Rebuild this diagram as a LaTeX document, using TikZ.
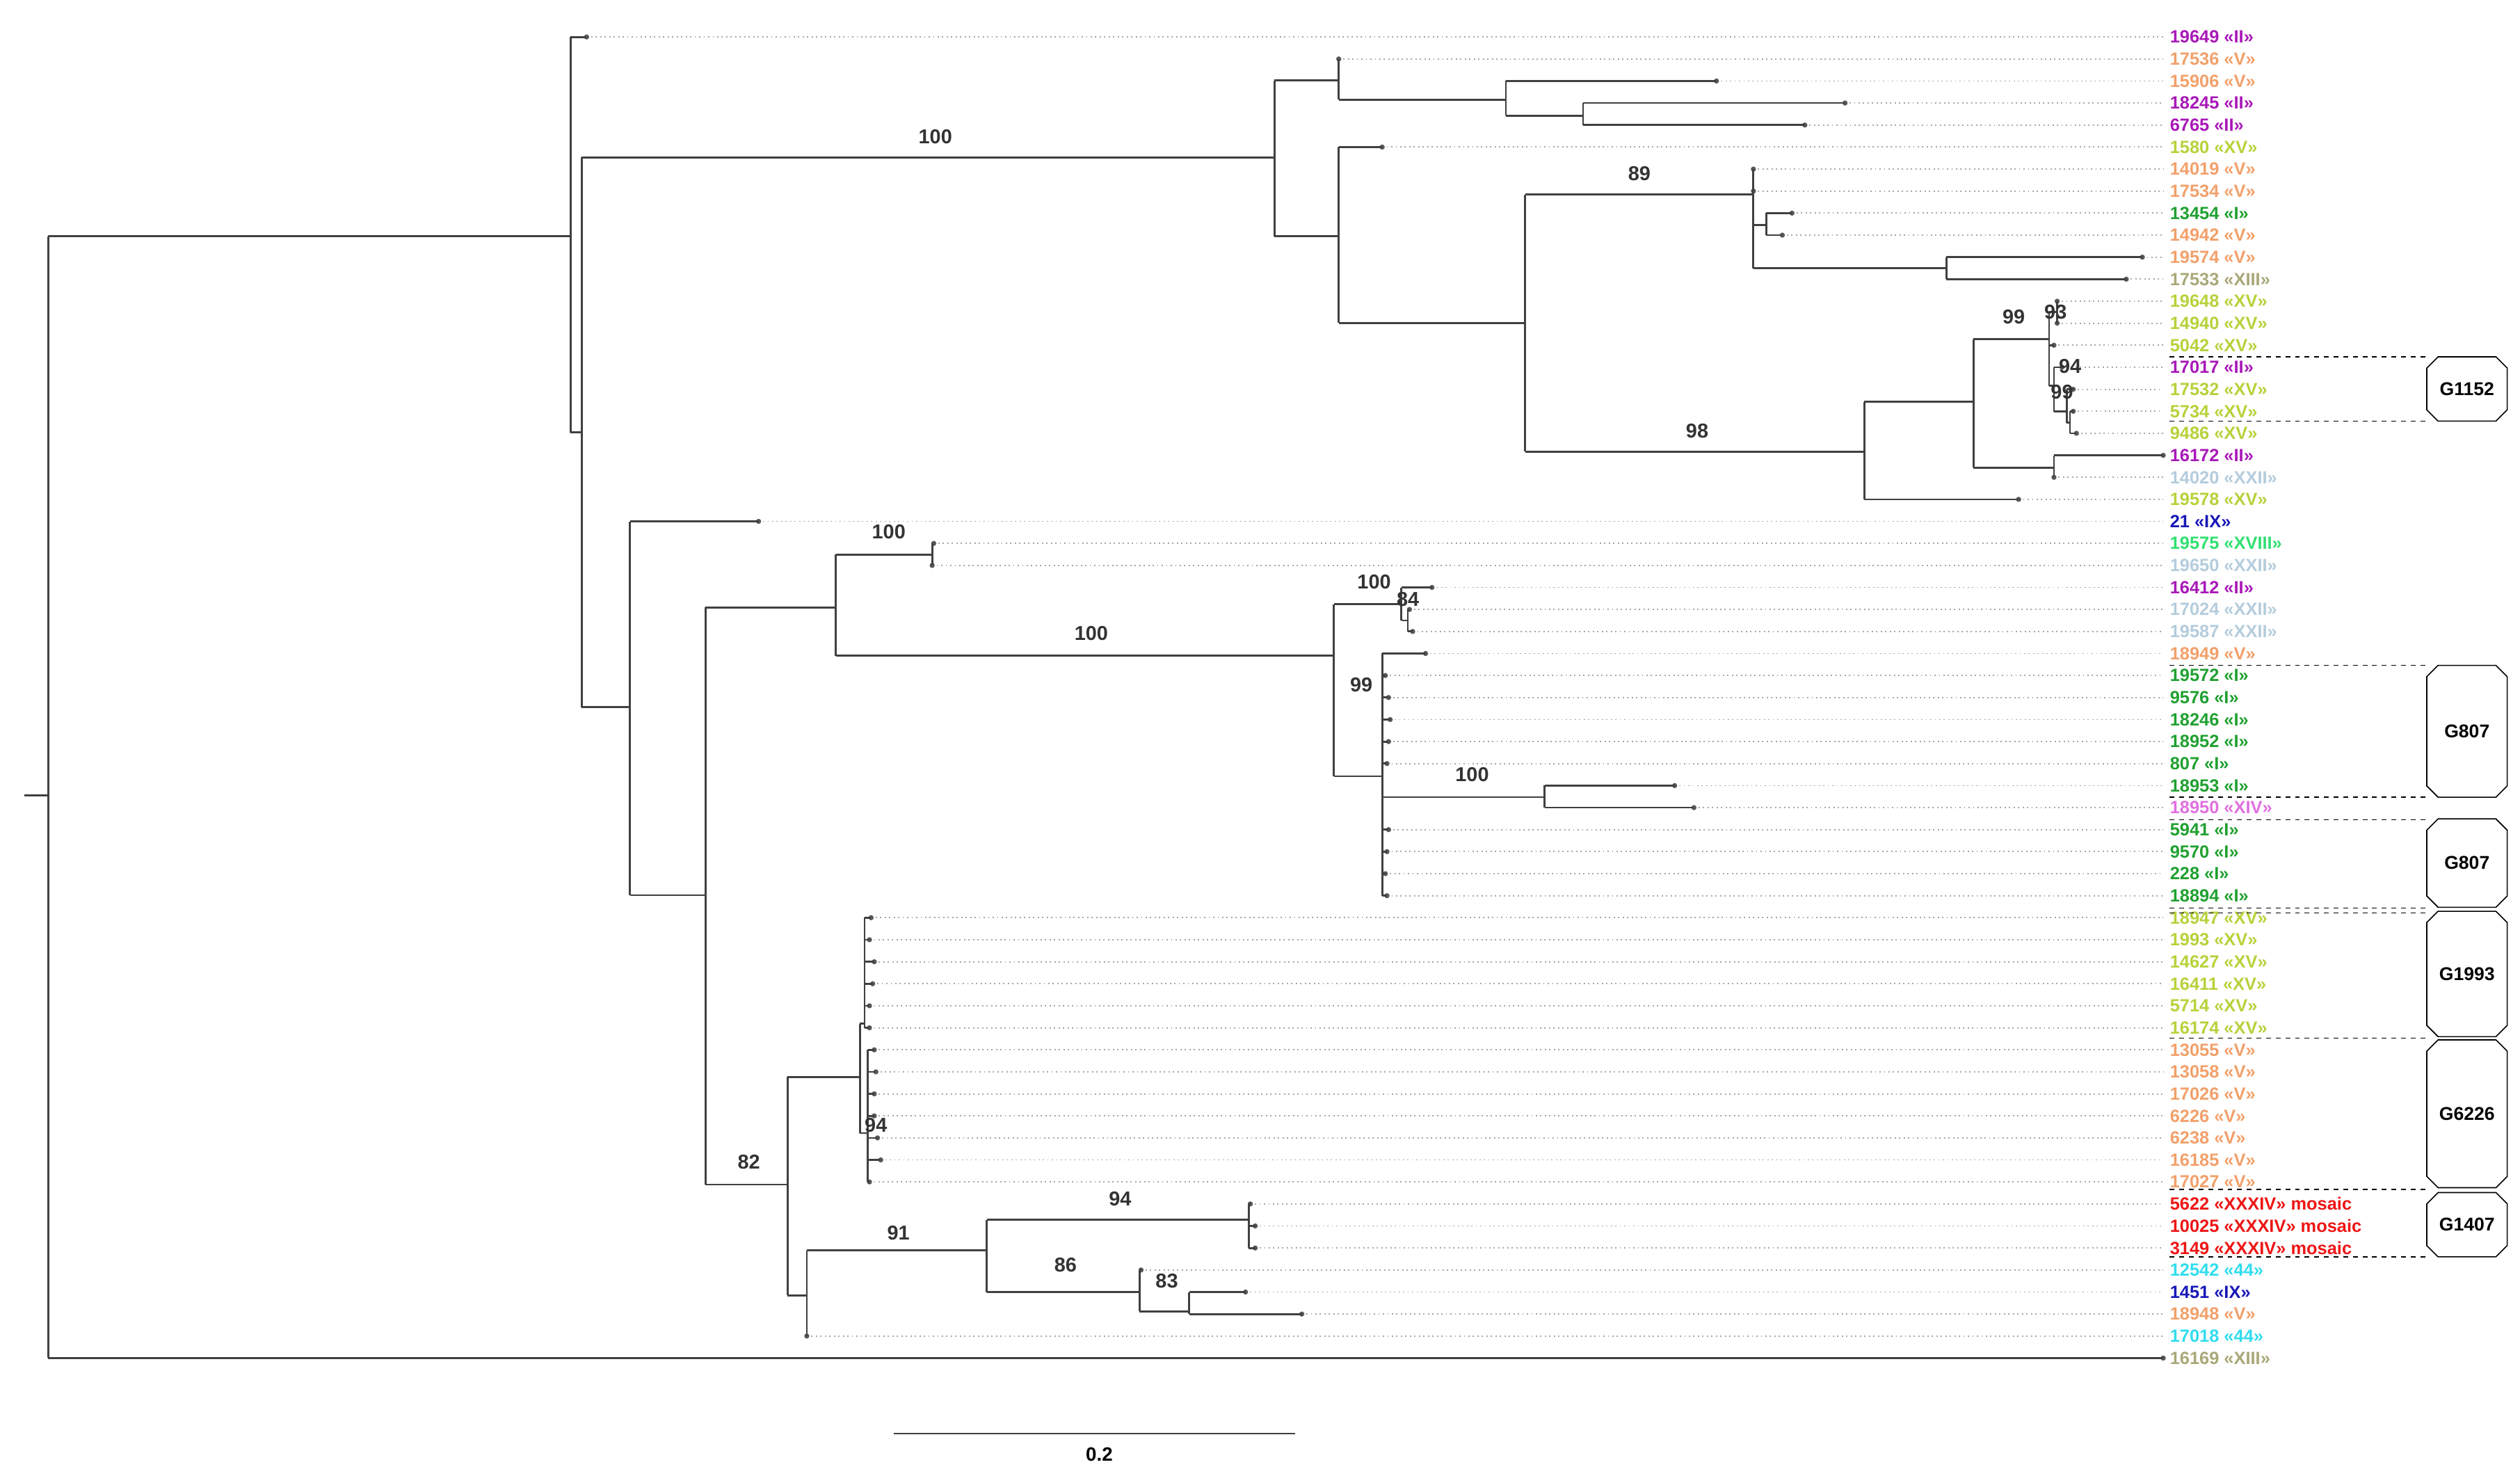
\documentclass[tikz,border=0pt]{standalone}
\usepackage{fontspec}
\setmainfont{Liberation Sans}
\usetikzlibrary{shapes.misc}
\definecolor{cII}{HTML}{A818B8}
\definecolor{cV}{HTML}{F2A06A}
\definecolor{cXV}{HTML}{B6D23A}
\definecolor{cI}{HTML}{20A030}
\definecolor{cXIII}{HTML}{A8A878}
\definecolor{cXXII}{HTML}{B4CCDC}
\definecolor{cIX}{HTML}{1818B8}
\definecolor{cXVIII}{HTML}{30E070}
\definecolor{cXIV}{HTML}{E070E0}
\definecolor{cXXXIV}{HTML}{EE1515}
\definecolor{c44}{HTML}{30DDEE}
\begin{document}
\begin{tikzpicture}[x=1pt,y=-1pt,
  br/.style={draw=black!75,line width=1.2pt},
  lead/.style={draw=black!35,dotted,line width=0.8pt},
  bs/.style={font=\fontsize{12.5}{13}\selectfont\bfseries,text=black!80,inner sep=0pt},
  grp/.style={chamfered rectangle,chamfered rectangle xsep=3pt,chamfered rectangle ysep=4pt,draw,line width=0.7pt,minimum width=50pt,font=\fontsize{11.5}{12}\selectfont\bfseries,inner sep=1pt},
  gd/.style={draw,dashed,line width=0.7pt}]
\useasboundingbox (0,0) rectangle (1568,918);
% leaves
\foreach \i/\lab/\col/\dx in {
1/19649 «II»/cII/365, 2/17536 «V»/cV/833, 3/15906 «V»/cV/1068, 4/18245 «II»/cII/1148,
5/6765 «II»/cII/1123, 6/1580 «XV»/cXV/860, 7/14019 «V»/cV/1091, 8/17534 «V»/cV/1091,
9/13454 «I»/cI/1115, 10/14942 «V»/cV/1109, 11/19574 «V»/cV/1333, 12/17533 «XIII»/cXIII/1323,
13/19648 «XV»/cXV/1280, 14/14940 «XV»/cXV/1280, 15/5042 «XV»/cXV/1278, 16/17017 «II»/cII/1283,
17/17532 «XV»/cXV/1290, 18/5734 «XV»/cXV/1290, 19/9486 «XV»/cXV/1292, 20/16172 «II»/cII/1346,
21/14020 «XXII»/cXXII/1278, 22/19578 «XV»/cXV/1256, 23/21 «IX»/cIX/472, 24/19575 «XVIII»/cXVIII/581,
25/19650 «XXII»/cXXII/580, 26/16412 «II»/cII/891, 27/17024 «XXII»/cXXII/877, 28/19587 «XXII»/cXXII/879,
29/18949 «V»/cV/887, 30/19572 «I»/cI/862, 31/9576 «I»/cI/864, 32/18246 «I»/cI/865,
33/18952 «I»/cI/864, 34/807 «I»/cI/863, 35/18953 «I»/cI/1042, 36/18950 «XIV»/cXIV/1054,
37/5941 «I»/cI/864, 38/9570 «I»/cI/863, 39/228 «I»/cI/862, 40/18894 «I»/cI/863,
41/18947 «XV»/cXV/542, 42/1993 «XV»/cXV/541, 43/14627 «XV»/cXV/544, 44/16411 «XV»/cXV/543,
45/5714 «XV»/cXV/541, 46/16174 «XV»/cXV/541, 47/13055 «V»/cV/544, 48/13058 «V»/cV/545,
49/17026 «V»/cV/544, 50/6226 «V»/cV/544, 51/6238 «V»/cV/546, 52/16185 «V»/cV/548,
53/17027 «V»/cV/541, 54/5622 «XXXIV» mosaic/cXXXIV/778, 55/10025 «XXXIV» mosaic/cXXXIV/781,
56/3149 «XXXIV» mosaic/cXXXIV/781, 57/12542 «44»/c44/710, 58/1451 «IX»/cIX/775,
59/18948 «V»/cV/810, 60/17018 «44»/c44/502, 61/16169 «XIII»/cXIII/1346}{
  \pgfmathsetmacro\yy{23+(\i-1)*13.7}
  \draw[lead] (\dx,\yy) -- (1346,\yy);
  \fill[black!65] (\dx,\yy) circle (1.6pt);
  \node[anchor=west,inner sep=0pt,text=\col,font=\fontsize{11}{11}\selectfont\bfseries] (L\i) at (1350,\yy) {\lab};
}
% tree
\draw[br] (15,495)--(30,495) (30,147)--(30,845) (30,147)--(355,147) (30,845)--(1346,845);
\draw[br] (355,23)--(355,269) (355,23)--(365,23) (355,269)--(362,269) (362,98)--(362,440);
\draw[br] (362,98)--(793,98) (793,50)--(793,147) (793,50)--(833,50) (833,36.7)--(833,62) (833,62)--(937,62)
 (937,50.4)--(937,72) (937,50.4)--(1068,50.4) (937,72)--(985,72) (985,64.1)--(985,77.8) (985,64.1)--(1148,64.1) (985,77.8)--(1123,77.8);
\draw[br] (793,147)--(833,147) (833,91.5)--(833,201) (833,91.5)--(860,91.5) (833,201)--(949,201) (949,121)--(949,281)
 (949,121)--(1091,121) (1091,105.2)--(1091,167) (1091,140)--(1099,140) (1099,132.6)--(1099,146.3)
 (1099,132.6)--(1115,132.6) (1099,146.3)--(1109,146.3) (1091,167)--(1211,167) (1211,160)--(1211,173.7)
 (1211,160)--(1333,160) (1211,173.7)--(1323,173.7);
\draw[br] (949,281)--(1160,281) (1160,250)--(1160,310.7) (1160,310.7)--(1256,310.7) (1160,250)--(1228,250)
 (1228,211)--(1228,291) (1228,291)--(1278,291) (1278,283.3)--(1278,297) (1278,283.3)--(1346,283.3)
 (1228,211)--(1275,211) (1275,194)--(1275,240) (1275,194)--(1280,194) (1280,187.4)--(1280,201.1)
 (1275,214.8)--(1278,214.8) (1275,240)--(1278,240) (1278,228.5)--(1278,256) (1278,228.5)--(1283,228.5)
 (1278,256)--(1286,256) (1286,242.2)--(1286,263) (1286,242.2)--(1290,242.2) (1286,263)--(1288,263)
 (1288,255.9)--(1288,269.6) (1288,255.9)--(1290,255.9) (1288,269.6)--(1292,269.6);
\draw[br] (362,440)--(392,440) (392,324.4)--(392,557) (392,324.4)--(472,324.4) (392,557)--(439,557)
 (439,378)--(439,737) (439,378)--(520,378) (520,345)--(520,408) (520,345)--(580,345) (580,338.1)--(580,351.8)
 (520,408)--(830,408) (830,376)--(830,483) (830,376)--(872,376) (872,365.5)--(872,386) (872,365.5)--(891,365.5)
 (872,386)--(876,386) (876,379.2)--(876,392.9) (876,379.2)--(877,379.2) (876,392.9)--(879,392.9)
 (830,483)--(860,483) (860,406.6)--(860,557.3) (860,406.6)--(887,406.6) (860,496)--(961,496)
 (961,488.8)--(961,502.5) (961,488.8)--(1042,488.8) (961,502.5)--(1054,502.5);
\foreach \y/\dx in {420.3/862,434/864,447.7/865,461.4/864,475.1/863,516.2/864,529.9/863,543.6/862,557.3/863}
  \draw[br] (860,\y)--(\dx,\y);
\draw[br] (439,737)--(490,737) (490,670)--(490,806) (490,670)--(535,670) (535,637)--(535,705)
 (535,637)--(538,637) (538,571)--(538,639.5) (535,705)--(540,705) (540,653.2)--(540,735.4);
\foreach \y/\dx in {571/542,584.7/541,598.4/544,612.1/543,625.8/541,639.5/541}
  \draw[br] (538,\y)--(\dx,\y);
\foreach \y/\dx in {653.2/544,666.9/545,680.6/544,694.3/544,708/546,721.7/548,735.4/541}
  \draw[br] (540,\y)--(\dx,\y);
\draw[br] (490,806)--(502,806) (502,778)--(502,831.3) (502,778)--(614,778) (614,759)--(614,804)
 (614,759)--(777,759) (777,749.1)--(777,776.5) (777,749.1)--(778,749.1) (777,762.8)--(781,762.8) (777,776.5)--(781,776.5)
 (614,804)--(709,804) (709,790.2)--(709,816) (709,790.2)--(710,790.2) (709,816)--(740,816)
 (740,803.9)--(740,817.6) (740,803.9)--(775,803.9) (740,817.6)--(810,817.6);
% bootstrap
\foreach \x/\y/\t in {582/85/100,1020/108/89,1056/268/98,1253/197/99,1279/194/93,1288/228/94,1283/244/99,
 553/331/100,679/394/100,855/362/100,876/373/84,847/426/99,916/482/100,466/723/82,545/700/94,
 697/746/94,559/767/91,663/787/86,726/797/83}
  \node[bs] at (\x,\y) {\t};
% groups
\foreach \y in {222,262,414,496,510,565,568,646,740,782}
  \draw[gd] (1350,\y)--(1510,\y);
\node[grp,minimum height=40pt] (g1) at (1535,242) {G1152};
\node[grp,minimum height=82pt] (g2) at (1535,455) {G807};
\node[grp,minimum height=55pt] (g3) at (1535,537) {G807};
\node[grp,minimum height=78pt] (g4) at (1535,606) {G1993};
\node[grp,minimum height=92pt] (g5) at (1535,693) {G6226};
\node[grp,minimum height=40pt] (g6) at (1535,762) {G1407};
% scale bar
\draw[line width=1.2pt,black!75] (556,892)--(806,892);
\node[font=\fontsize{12}{12}\selectfont\bfseries] (sb) at (684,905) {0.2};
\end{tikzpicture}
\end{document}
